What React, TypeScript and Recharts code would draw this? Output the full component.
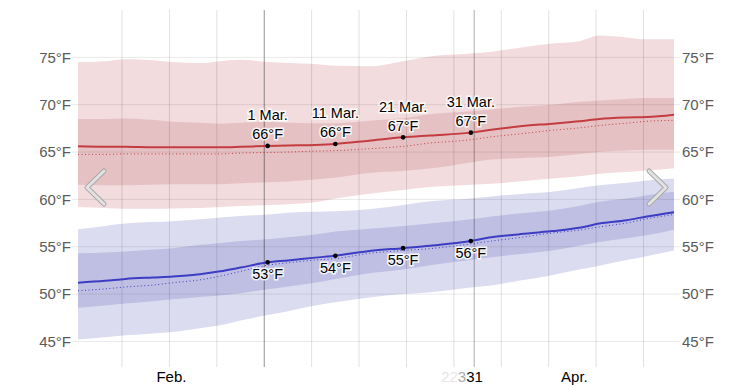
import { ComposedChart, Area, Line, XAxis, YAxis, ReferenceLine } from 'recharts';

// day 0 = 1 Feb (noon), day 88 = 29 Apr
const days = [0, 4, 7, 11, 14, 18, 21, 24, 28, 31, 35, 38, 43, 48, 52, 58, 61, 65, 70, 74, 77, 81, 84, 88];

const hiP90 = [74.5, 74.6, 74.8, 74.7, 74.5, 74.4, 74.6, 74.75, 74.5, 74.4, 74.3, 74.1, 74.05, 74.6, 75.1, 75.4, 75.6, 76.0, 76.45, 76.7, 77.3, 77.1, 76.9, 76.9];
const hiP75 = [68.5, 68.5, 68.55, 68.4, 68.2, 68.1, 68.0, 68.1, 68.2, 68.1, 68.05, 68.05, 68.3, 68.6, 69.0, 69.3, 69.5, 69.75, 70.0, 70.3, 70.45, 70.6, 70.7, 70.7];
const hiP25 = [61.55, 61.5, 61.5, 61.55, 61.6, 61.6, 61.6, 61.7, 61.8, 61.9, 62.1, 62.3, 62.8, 63.0, 63.25, 63.9, 64.2, 64.35, 64.5, 64.8, 65.0, 65.15, 65.25, 65.25];
const hiP10 = [59.2, 59.1, 59.0, 59.0, 59.05, 59.1, 59.2, 59.3, 59.4, 59.5, 59.7, 60.1, 60.6, 61.0, 61.3, 61.55, 61.65, 61.9, 62.2, 62.45, 62.7, 62.9, 63.05, 63.3];
const hiAvg = [65.6, 65.55, 65.55, 65.5, 65.5, 65.5, 65.5, 65.55, 65.65, 65.7, 65.75, 65.85, 66.2, 66.55, 66.75, 67.05, 67.35, 67.7, 68.0, 68.25, 68.5, 68.65, 68.7, 68.95];
const hiPrev = [64.75, 64.75, 64.8, 64.8, 64.8, 64.8, 64.8, 64.9, 64.95, 65.0, 65.1, 65.15, 65.35, 65.6, 65.95, 66.3, 66.6, 66.9, 67.3, 67.55, 67.8, 68.05, 68.25, 68.35];

const loP90 = [56.85, 57.2, 57.45, 57.6, 57.7, 57.9, 58.1, 58.25, 58.4, 58.6, 58.7, 58.75, 58.95, 59.4, 59.8, 60.1, 60.3, 60.55, 60.8, 61.2, 61.5, 61.75, 62.0, 62.2];
const loP75 = [54.3, 54.4, 54.5, 54.7, 54.85, 55.2, 55.4, 55.6, 55.8, 56.0, 56.3, 56.6, 56.9, 57.2, 57.45, 57.9, 58.2, 58.5, 58.85, 59.3, 59.75, 60.1, 60.45, 60.8];
const loP25 = [48.55, 48.8, 49.0, 49.25, 49.45, 49.7, 49.85, 50.1, 50.5, 50.8, 51.2, 51.6, 52.2, 52.6, 53.05, 53.6, 53.9, 54.2, 54.6, 55.1, 55.5, 55.9, 56.2, 56.8];
const loP10 = [45.2, 45.45, 45.65, 45.85, 46.0, 46.4, 46.7, 47.2, 47.8, 48.2, 48.8, 49.15, 49.65, 50.0, 50.2, 50.7, 50.9, 51.4, 52.0, 52.6, 53.0, 53.6, 54.0, 54.6];
const loAvg = [51.2, 51.4, 51.6, 51.75, 51.85, 52.1, 52.4, 52.8, 53.35, 53.55, 53.85, 54.05, 54.55, 54.85, 55.1, 55.6, 56.0, 56.3, 56.65, 57.0, 57.45, 57.8, 58.2, 58.65];
const loPrev = [50.35, 50.55, 50.75, 50.95, 51.2, 51.5, 51.9, 52.4, 53.05, 53.3, 53.6, 53.75, 54.3, 54.6, 54.8, 55.3, 55.6, 55.95, 56.45, 56.75, 57.1, 57.5, 57.95, 58.4];

const markDays = [28, 38, 48, 58];
const markDates = ['1 Mar.', '11 Mar.', '21 Mar.', '31 Mar.'];

const yTicks = [45, 50, 55, 60, 65, 70, 75];
const weekLines = [6.5, 13.5, 20.5, 27.5, 34.5, 41.5, 48.5, 55.5, 62.5, 69.5, 76.5, 83.5];
const monthLines = [27.5, 58.5];
const xTickDays = [13.8, 58.3, 73.3];
const xTickLabels = ['Feb.', '31', 'Apr.'];

const data = days.map((day, i) => ({
  day,
  hiOuter: [hiP10[i], hiP90[i]],
  hiInner: [hiP25[i], hiP75[i]],
  hiAvg: hiAvg[i],
  hiPrev: hiPrev[i],
  loOuter: [loP10[i], loP90[i]],
  loInner: [loP25[i], loP75[i]],
  loAvg: loAvg[i],
  loPrev: loPrev[i],
}));

const FONT = '"Liberation Sans", Arial, Helvetica, sans-serif';

const haloText = {
  fontSize: 14.5,
  fontFamily: FONT,
  fill: '#000',
  stroke: 'rgba(255,255,255,0.85)',
  strokeWidth: 3,
  paintOrder: 'stroke' as const,
  textAnchor: 'middle' as const,
};

function HighDot(props: any) {
  const { cx, cy, payload, value } = props;
  const k = markDays.indexOf(payload.day);
  if (k < 0) return <g key={`hd-${payload.day}`} />;
  return (
    <g key={`hd-${payload.day}`}>
      <text x={cx} y={cy - 25.5} {...haloText}>{markDates[k]}</text>
      <text x={cx} y={cy - 6.5} {...haloText}>{`${Math.round(value)}°F`}</text>
      <circle cx={cx} cy={cy} r={2.3} fill="#000" />
    </g>
  );
}

function LowDot(props: any) {
  const { cx, cy, payload, value } = props;
  const k = markDays.indexOf(payload.day);
  if (k < 0) return <g key={`ld-${payload.day}`} />;
  return (
    <g key={`ld-${payload.day}`}>
      <text x={cx} y={cy + 17} {...haloText}>{`${Math.round(value)}°F`}</text>
      <circle cx={cx} cy={cy} r={2.3} fill="#000" />
    </g>
  );
}

function MonthTick(props: any) {
  const { x, y, payload } = props;
  const k = xTickDays.indexOf(payload.value);
  const label = xTickLabels[k] ?? '';
  const base = y + 15;
  if (label === '31') {
    // faded leftovers of the day labels, drawn as one text run
    return (
      <text x={x + 10} y={base} textAnchor="end" fontSize={15} fontFamily={FONT}>
        <tspan fill="#e6e6e6">22</tspan>
        <tspan fill="#aaa">3</tspan>
        <tspan fill="#000">{label}</tspan>
      </text>
    );
  }
  return (
    <text x={x} y={base} textAnchor="middle" fontSize={15} fontFamily={FONT} fill="#000">
      {label}
    </text>
  );
}

export default function App() {
  const axisTick = { fontSize: 15, fill: '#5a5a5a', fontFamily: FONT };
  const gridStroke = 'rgba(0,0,0,0.09)';

  return (
    <div style={{ position: 'absolute', left: 0, top: 0, width: 753, height: 387, fontFamily: FONT }}>
      <ComposedChart
        width={753}
        height={387}
        data={data}
        margin={{ top: 10, right: 0, left: 0, bottom: 0 }}
      >
        <XAxis
          dataKey="day"
          type="number"
          domain={[0, 88]}
          ticks={xTickDays}
          interval={0}
          axisLine={false}
          tickLine={false}
          tickSize={0}
          tickMargin={0}
          height={20}
          tick={<MonthTick />}
        />
        <YAxis
          yAxisId="l"
          orientation="left"
          type="number"
          width={78}
          domain={[42.3, 80]}
          ticks={yTicks}
          allowDataOverflow
          axisLine={false}
          tickLine={{ stroke: gridStroke }}
          tickSize={6}
          tickMargin={1}
          tick={axisTick}
          tickFormatter={(v) => `${v}°F`}
        />
        <YAxis
          yAxisId="r"
          orientation="right"
          type="number"
          width={79}
          domain={[42.3, 80]}
          ticks={yTicks}
          allowDataOverflow
          axisLine={false}
          tickLine={{ stroke: gridStroke }}
          tickSize={6}
          tickMargin={2}
          tick={axisTick}
          tickFormatter={(v) => `${v}°F`}
        />

        <Area yAxisId="l" type="monotone" dataKey="hiOuter" stroke="none" fill="#f2dcdd" fillOpacity={1} isAnimationActive={false} />
        <Area yAxisId="l" type="monotone" dataKey="hiInner" stroke="none" fill="#e6c1c3" fillOpacity={1} isAnimationActive={false} />
        <Area yAxisId="l" type="monotone" dataKey="loOuter" stroke="none" fill="#dcdcf0" fillOpacity={1} isAnimationActive={false} />
        <Area yAxisId="l" type="monotone" dataKey="loInner" stroke="none" fill="#bfbfe3" fillOpacity={1} isAnimationActive={false} />

        {yTicks.map((v) => (
          <ReferenceLine key={`h${v}`} yAxisId="l" y={v} stroke={gridStroke} strokeWidth={1} />
        ))}
        {weekLines.map((d) => (
          <ReferenceLine key={`w${d}`} yAxisId="l" x={d} stroke="rgba(0,0,0,0.12)" strokeWidth={1} />
        ))}
        {monthLines.map((d) => (
          <ReferenceLine key={`m${d}`} yAxisId="l" x={d} stroke="rgba(0,0,0,0.32)" strokeWidth={1} />
        ))}

        <Line yAxisId="l" type="monotone" dataKey="hiPrev" stroke="#c43c40" strokeWidth={1} strokeDasharray="1 2.5" dot={false} isAnimationActive={false} />
        <Line yAxisId="l" type="monotone" dataKey="loPrev" stroke="#3c3cc4" strokeWidth={1} strokeDasharray="1 2.5" dot={false} isAnimationActive={false} />
        <Line yAxisId="l" type="monotone" dataKey="hiAvg" stroke="#c43c40" strokeWidth={2} dot={<HighDot />} isAnimationActive={false} />
        <Line yAxisId="l" type="monotone" dataKey="loAvg" stroke="#3c3cc4" strokeWidth={2} dot={<LowDot />} isAnimationActive={false} />
      </ComposedChart>

      <svg
        width={753}
        height={387}
        style={{ position: 'absolute', left: 0, top: 0, pointerEvents: 'none' }}
      >
        <polyline points="104,171 87,187.5 104,204" fill="none" stroke="#a8a8a8" strokeWidth={5} strokeLinecap="round" strokeLinejoin="round" />
        <polyline points="104,171 87,187.5 104,204" fill="none" stroke="#e2e2e2" strokeWidth={3} strokeLinecap="round" strokeLinejoin="round" />
        <polyline points="649,171 666,187.5 649,204" fill="none" stroke="#a8a8a8" strokeWidth={5} strokeLinecap="round" strokeLinejoin="round" />
        <polyline points="649,171 666,187.5 649,204" fill="none" stroke="#e2e2e2" strokeWidth={3} strokeLinecap="round" strokeLinejoin="round" />
      </svg>
    </div>
  );
}
